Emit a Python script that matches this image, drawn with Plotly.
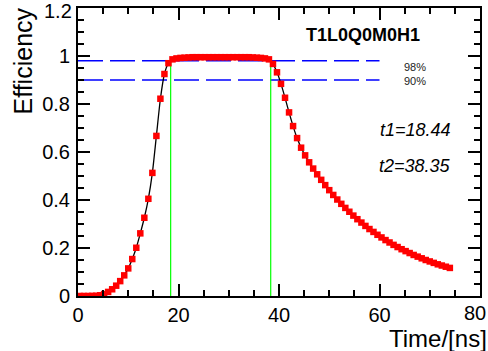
import plotly.graph_objects as go

# ---- data ----
time_ns = [round(0.4 + 0.8 * k, 1) for k in range(93)]
efficiency = [
    0.000, 0.000, 0.000, 0.0005, 0.001, 0.003, 0.008, 0.017, 0.028, 0.043,
    0.062, 0.086, 0.115, 0.154, 0.201, 0.261, 0.326, 0.405, 0.513, 0.667,
    0.822, 0.925, 0.970, 0.986, 0.990, 0.992, 0.993, 0.994, 0.995, 0.995,
    0.995, 0.995, 0.995, 0.995, 0.995, 0.995, 0.995, 0.995, 0.995, 0.995,
    0.995, 0.995, 0.995, 0.994, 0.993, 0.992, 0.990, 0.986, 0.967, 0.932,
    0.884, 0.826, 0.765, 0.708, 0.658, 0.618, 0.586, 0.557, 0.531, 0.507,
    0.484, 0.462, 0.441, 0.421, 0.402, 0.384, 0.367, 0.351, 0.335, 0.320,
    0.306, 0.292, 0.279, 0.267, 0.255, 0.244, 0.233, 0.223, 0.213, 0.204,
    0.195, 0.187, 0.179, 0.171, 0.164, 0.157, 0.150, 0.144, 0.138, 0.132,
    0.127, 0.122, 0.117,
]
threshold_levels = [0.98, 0.90]
threshold_labels = ["98%", "90%"]
threshold_xmax = 60
t1 = 18.44
t2 = 38.35
label = "T1L0Q0M0H1"
x_ticks = [0, 20, 40, 60, 80]
y_ticks = [0, 0.2, 0.4, 0.6, 0.8, 1.0, 1.2]
X_MAX = 80
Y_MAX = 1.2

FONT = "Liberation Sans, Arial, Helvetica, sans-serif"
TICK_SIZE = 20

fig = go.Figure()

# threshold lines (blue dashed)
for lvl in threshold_levels:
    fig.add_trace(go.Scatter(
        x=[0, threshold_xmax], y=[lvl, lvl], mode="lines",
        line=dict(color="rgb(0,0,255)", width=1.5, dash="25px,7px"),
        hoverinfo="skip", showlegend=False))

# t1, t2 vertical green lines
for tv in [t1, t2]:
    fig.add_trace(go.Scatter(
        x=[tv, tv], y=[0, threshold_levels[0]], mode="lines",
        line=dict(color="rgb(0,255,0)", width=1.2),
        hoverinfo="skip", showlegend=False))

# efficiency curve
fig.add_trace(go.Scatter(
    x=time_ns, y=efficiency, mode="lines+markers",
    line=dict(color="black", width=1.3, shape="spline", smoothing=0.6),
    marker=dict(symbol="square", size=6.5, color="red", line=dict(width=0)),
    showlegend=False))

annotations = [
    dict(x=56.7, y=1.088, text="<b>%s</b>" % label, showarrow=False,
         font=dict(size=18, color="black", family=FONT), xref="x", yref="y"),
    dict(x=67.1, y=0.692, text="<i>t1=%.2f</i>" % t1, showarrow=False,
         font=dict(size=18, color="black", family=FONT), xref="x", yref="y"),
    dict(x=67.1, y=0.542, text="<i>t2=%.2f</i>" % t2, showarrow=False,
         font=dict(size=18, color="black", family=FONT), xref="x", yref="y"),
    dict(x=0, xshift=-56, y=1, yshift=2, text="Efficiency", textangle=-90,
         xref="paper", yref="paper", xanchor="center", yanchor="top",
         showarrow=False, font=dict(size=25, color="black", family=FONT)),
    dict(x=1, xshift=9, y=-0.146, text="Time/[ns]", xref="paper", yref="paper",
         xanchor="right", yanchor="middle", showarrow=False,
         font=dict(size=24, color="black", family=FONT)),
    # end tick labels that plotly would hide (they touch the page edge)
    dict(x=0, xshift=-4, y=Y_MAX, yshift=-3, text="%g" % Y_MAX, xref="paper", yref="y",
         xanchor="right", yanchor="middle", showarrow=False,
         font=dict(size=TICK_SIZE, color="black", family=FONT)),
    dict(x=X_MAX, xshift=8, y=0, yshift=-17, text="%g" % X_MAX, xref="x", yref="paper",
         xanchor="right", yanchor="middle", showarrow=False,
         font=dict(size=TICK_SIZE, color="black", family=FONT)),
]
for lvl, txt, dy in zip(threshold_levels, threshold_labels, [-0.025, -0.003]):
    annotations.append(dict(x=67.0, y=lvl + dy, text=txt, showarrow=False,
                            xref="x", yref="y",
                            font=dict(size=11, color="#222", family=FONT)))

axis_common = dict(
    showgrid=False, zeroline=False, showline=True, linecolor="black",
    linewidth=2, mirror="ticks", ticks="inside", ticklen=12, tickwidth=1.5,
    tickcolor="black", tickfont=dict(size=TICK_SIZE, color="black", family=FONT),
    automargin=False,
)

fig.update_layout(
    width=488, height=351,
    margin=dict(l=78, r=8, t=8, b=55),
    paper_bgcolor="white", plot_bgcolor="white",
    xaxis=dict(range=[0, X_MAX], tickvals=x_ticks, ticklabelstandoff=0,
               minor=dict(dtick=5, ticks="inside", ticklen=6, tickwidth=1.5,
                          tickcolor="black", showgrid=False),
               **axis_common),
    yaxis=dict(range=[0, Y_MAX], tickvals=y_ticks, ticklabelstandoff=2,
               minor=dict(dtick=0.05, ticks="inside", ticklen=6, tickwidth=1.5,
                          tickcolor="black", showgrid=False),
               **axis_common),
    annotations=annotations,
    showlegend=False,
)

fig.write_html("out.html")
